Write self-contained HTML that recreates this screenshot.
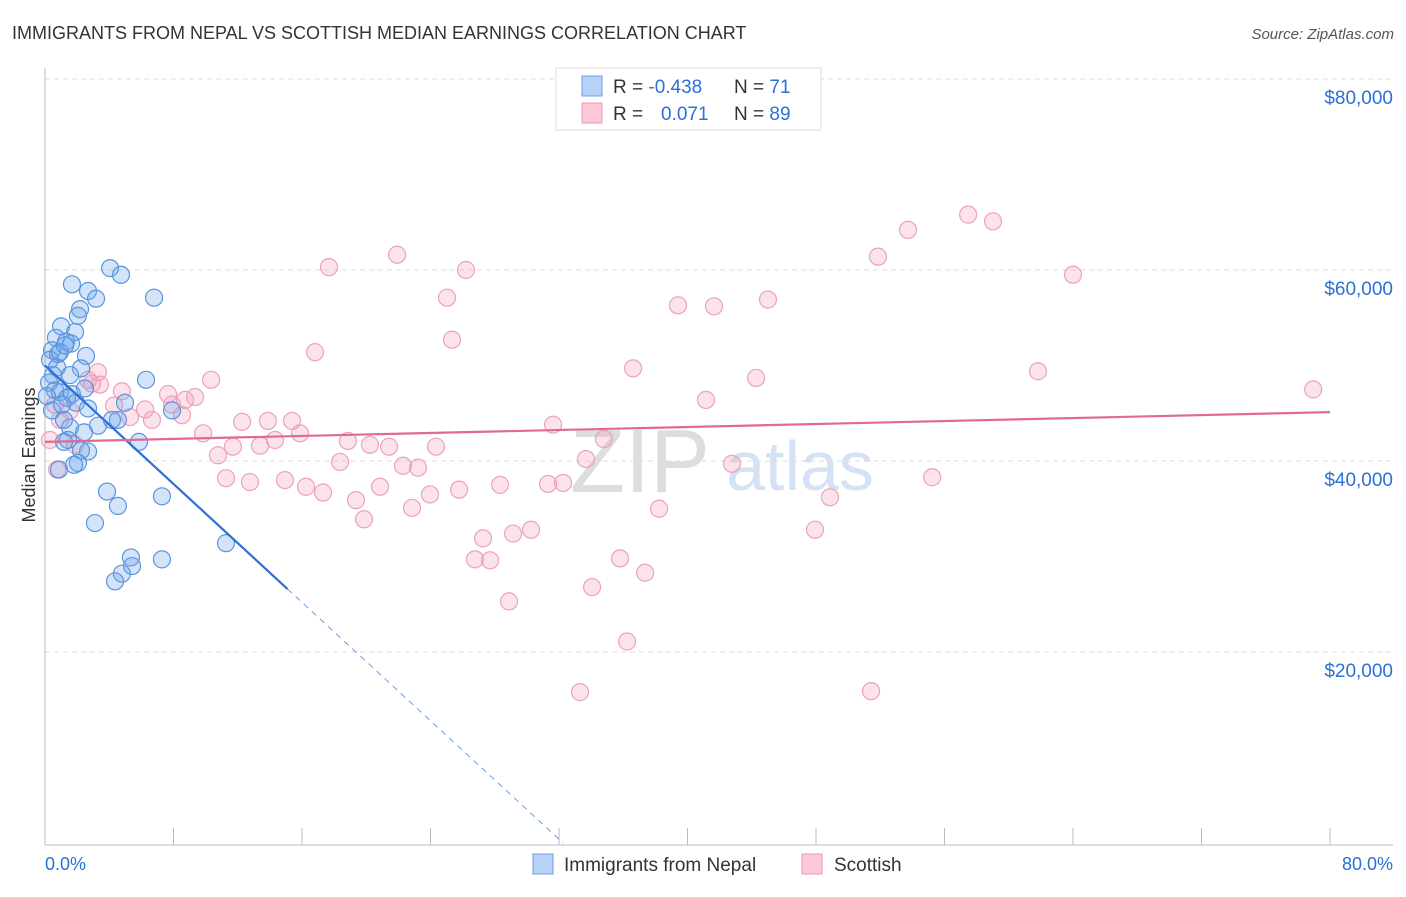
<!DOCTYPE html>
<html><head><meta charset="utf-8"><style>
body{margin:0;background:#fff;font-family:"Liberation Sans",sans-serif;}
svg text{font-family:"Liberation Sans",sans-serif;}
</style></head><body>
<svg id="chart" width="1406" height="892">
<text x="12" y="39" font-size="18" fill="#333">IMMIGRANTS FROM NEPAL VS SCOTTISH MEDIAN EARNINGS CORRELATION CHART</text>
<text x="1394" y="39" font-size="15" fill="#555" font-style="italic" text-anchor="end">Source: ZipAtlas.com</text>
<text x="35" y="455" font-size="18" fill="#333" text-anchor="middle" transform="rotate(-90 35 455)">Median Earnings</text>
<text x="640" y="492" font-size="90" fill="#ddd" font-family="Liberation Serif" text-anchor="middle">ZIP</text>
<text x="800" y="490" font-size="70" fill="#d4e2f4" text-anchor="middle">atlas</text>
<g id="grid"></g><g id="axes"></g><g id="pink"></g><g id="blue"></g><g id="trend"></g>
<g>
<rect x="556" y="68" width="265" height="62" fill="#fff" stroke="#ddd"/>
<rect x="582" y="76" width="20" height="20" fill="#b7d2f6" stroke="#6c9fe4"/>
<rect x="582" y="103" width="20" height="20" fill="#fcc8d8" stroke="#ea9ab4"/>
<text x="613" y="93" font-size="19" fill="#333">R = <tspan fill="#2c6fd6">-0.438</tspan></text>
<text x="734" y="93" font-size="19" fill="#333">N = <tspan fill="#2c6fd6"> 71</tspan></text>
<text x="613" y="120" font-size="19" fill="#333">R = <tspan fill="#2c6fd6" x="661">0.071</tspan></text>
<text x="734" y="120" font-size="19" fill="#333">N = <tspan fill="#2c6fd6">89</tspan></text>
</g>
<g>
<rect x="533" y="854" width="20" height="20" fill="#b7d2f6" stroke="#6c9fe4"/>
<text x="564" y="871" font-size="19" fill="#333">Immigrants from Nepal</text>
<rect x="802" y="854" width="20" height="20" fill="#fcc8d8" stroke="#ea9ab4"/>
<text x="834" y="871" font-size="19" fill="#333">Scottish</text>
</g>
<text x="45" y="870" font-size="18" fill="#2c6fd6">0.0%</text>
<text x="1393" y="870" font-size="18" fill="#2c6fd6" text-anchor="end">80.0%</text>
</svg>
<script>
const yTicks=[20000,40000,60000,80000];
const yTickLabels=["$20,000","$40,000","$60,000","$80,000"];
const blueX=[4.05,4.73,1.68,2.68,3.18,6.79,2.18,2.05,1.0,1.87,0.68,1.31,1.62,0.44,2.55,0.31,0.75,2.24,0.5,6.29,0.25,0.62,0.93,2.49,1.68,1.37,1.93,4.98,2.68,7.91,4.54,3.3,4.17,1.56,2.43,1.43,1.18,5.85,2.68,2.24,0.87,2.05,3.86,7.28,4.54,3.11,5.35,5.42,7.28,11.27,4.79,4.36,0.81,0.12,0.44,1.06,1.56,0.93,1.18,1.81,1.25];
const blueY=[60.2,59.5,58.5,57.8,57.0,57.1,55.9,55.2,54.1,53.5,52.9,52.5,52.3,51.6,51.0,50.6,49.8,49.7,49.0,48.5,48.2,47.4,47.2,47.6,47.0,46.6,46.1,46.1,45.5,45.3,44.3,43.7,44.3,43.5,43.0,42.2,42.0,42.0,41.0,41.1,39.1,39.8,36.8,36.3,35.3,33.5,29.9,29.0,29.7,31.4,28.2,27.4,51.2,46.8,45.3,45.9,49.0,51.4,44.3,39.6,52.1];
const pinkX=[17.68,21.92,26.21,25.03,25.34,16.81,57.47,59.02,53.73,51.86,64.0,39.41,41.65,45.01,36.61,44.27,61.82,78.95,41.15,10.34,9.34,7.66,4.79,3.3,2.68,2.93,4.3,5.29,6.23,6.66,7.91,8.72,8.53,9.84,10.77,12.27,11.7,13.88,14.32,15.38,15.88,13.39,11.27,12.76,14.94,16.25,17.31,18.37,18.86,19.36,19.86,20.23,20.86,21.42,22.29,23.22,22.85,23.97,24.34,25.78,28.33,31.32,31.63,32.25,33.68,34.8,27.27,26.77,27.71,29.14,30.26,28.89,34.06,35.8,37.36,36.24,38.23,42.77,48.87,47.94,55.23,33.31,51.43,0.75,0.31,0.93,1.87,0.62,1.56,3.42];
const pinkY=[60.3,61.6,60.0,57.1,52.7,51.4,65.8,65.1,64.2,61.4,59.5,56.3,56.2,56.9,49.7,48.7,49.4,47.5,46.4,48.5,46.7,47.0,47.3,49.3,48.5,48.1,45.8,44.6,45.4,44.3,45.9,46.4,44.8,42.9,40.6,44.1,41.5,44.2,42.2,44.2,42.9,41.6,38.2,37.8,38.0,37.3,36.7,39.9,42.1,35.9,33.9,41.7,37.3,41.5,39.5,39.3,35.1,36.5,41.5,37.0,37.5,37.6,43.8,37.7,40.2,42.3,31.9,29.7,29.6,32.4,32.8,25.3,26.8,29.8,28.3,21.1,35.0,39.7,36.2,32.8,38.3,15.8,15.9,39.1,42.2,44.3,41.7,45.9,45.3,48.0];
const blueTrend=[50.0,-1.55]; // intercept (k$), slope per %
const blueSolidEnd=15.1;
const pinkTrend=[42.0,0.039];
const NS="http://www.w3.org/2000/svg";
const X=p=>45+p*1285/80;
const Y=k=>843-k*1000*191/20000;
function mk(tag,attrs,parent){const e=document.createElementNS(NS,tag);for(const k in attrs)e.setAttribute(k,attrs[k]);document.getElementById(parent).appendChild(e);return e;}
yTicks.forEach((t,i)=>{
 const g=mk('line',{x1:45,x2:1393,y1:Y(t/1000),y2:Y(t/1000),stroke:'#ddd','stroke-dasharray':'5,4'},'grid');
 
 
 const tx=mk('text',{x:1393,y:Y(t/1000)+25,'font-size':19,fill:'#2c6fd6','text-anchor':'end'},'grid');
 tx.textContent=yTickLabels[i];
 
 
});
const ax=mk('line',{x1:45,x2:45,y1:68,y2:845,stroke:'#bbb'},'axes');


const bx=mk('line',{x1:45,x2:1393,y1:845,y2:845,stroke:'#bbb'},'axes');


for(let i=1;i<=10;i++){
 const t=mk('line',{x1:X(i*8),x2:X(i*8),y1:828,y2:845,stroke:'#bbb'},'axes');
 
 
}
pinkX.forEach((x,i)=>{
 const c=mk('circle',{cx:X(x),cy:Y(pinkY[i]),r:8.5,fill:'rgba(244,160,188,0.3)',stroke:'#eba2bb','stroke-width':1.2},'pink');
 
 
});
blueX.forEach((x,i)=>{
 const c=mk('circle',{cx:X(x),cy:Y(blueY[i]),r:8.5,fill:'rgba(110,165,235,0.3)',stroke:'#5b95df','stroke-width':1.2},'blue');
 
 
});
const zeroX=-blueTrend[0]/blueTrend[1];
const l1=mk('line',{x1:X(0),y1:Y(blueTrend[0]),x2:X(blueSolidEnd),y2:Y(blueTrend[0]+blueTrend[1]*blueSolidEnd),stroke:'#2c6fd6','stroke-width':2.2},'trend');


const l2=mk('line',{x1:X(blueSolidEnd),y1:Y(blueTrend[0]+blueTrend[1]*blueSolidEnd),x2:X(zeroX),y2:Y(0),stroke:'#6c9fe4','stroke-width':1,'stroke-dasharray':'6,5'},'trend');


const l3=mk('line',{x1:X(0),y1:Y(pinkTrend[0]),x2:X(80),y2:Y(pinkTrend[0]+pinkTrend[1]*80),stroke:'#e06a94','stroke-width':2.2},'trend');


</script>
</body></html>
